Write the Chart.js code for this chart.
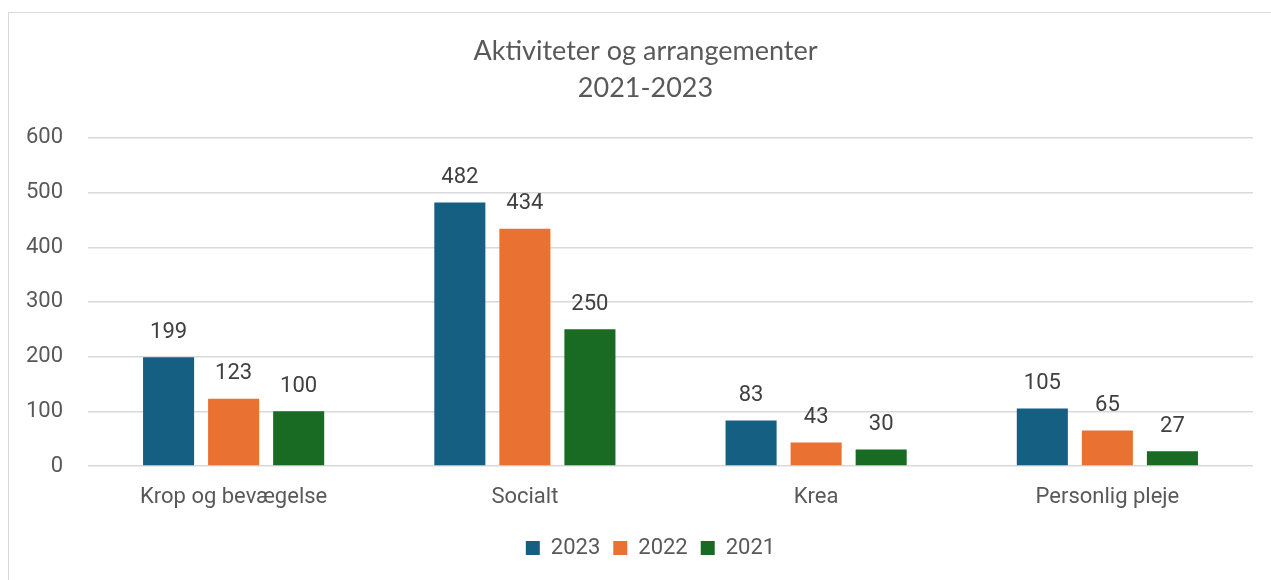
<!DOCTYPE html>
<html>
<head>
<meta charset="utf-8">
<script src="https://cdn.jsdelivr.net/npm/chart.js@4"></script>
<style>
	html, body { margin: 0; padding: 0; background: #fff; overflow: hidden; }
	#frame { position: absolute; left: 8px; top: 12px; width: 1300px; height: 620px; border: 1px solid #d9d9d9; box-sizing: border-box; }
	#wrap { position: absolute; left: 0; top: 0; width: 1271px; height: 580px; }
</style>
</head>
<body>
<div id="frame"></div>
<div id="wrap"><canvas id="chart"></canvas></div>
<script>
/* Aktiviteter og arrangementer 2021-2023 — grouped columns */
var categories = ["Krop og bevægelse", "Socialt", "Krea", "Personlig pleje"];
var series2023 = [199, 482, 83, 105];
var series2022 = [123, 434, 43, 65];
var series2021 = [100, 250, 30, 27];
var seriesNames = ["2023", "2022", "2021"];
var yTicks = [0, 100, 200, 300, 400, 500, 600];

var FONT = "Roboto, 'Open Sans', sans-serif";
var TITLE_FONT = "Lato, 'Open Sans', sans-serif";
var colors = { y2023: "#156082", y2022: "#e97132", y2021: "#196b24", text: "#595959", label: "#404040", grid: "#d9d9d9" };

// draws the value above each bar (no datalabels plugin available)
var valueLabels = {
	id: "valueLabels",
	afterDatasetsDraw: function (chart) {
		var ctx = chart.ctx;
		ctx.save();
		ctx.font = "22px " + FONT;
		ctx.fillStyle = colors.label;
		ctx.textAlign = "center";
		ctx.textBaseline = "bottom";
		chart.data.datasets.forEach(function (ds, i) {
			var meta = chart.getDatasetMeta(i);
			meta.data.forEach(function (bar, j) {
				ctx.fillText(String(ds.data[j]), bar.x, bar.y - 14);
			});
		});
		ctx.restore();
	},
};

// title and legend are centred on the plot area in the original, not the canvas
var centreOnPlot = {
	id: "centreOnPlot",
	afterLayout: function (chart) {
		if (chart.titleBlock) chart.titleBlock.left += 38;
		if (chart.legend) { chart.legend.left += 24; chart.legend.right += 24; }
	},
};

function dataset(name, values, color) {
	return {
		label: name,
		data: values,
		backgroundColor: color,
		borderWidth: 0,
		categoryPercentage: 0.67,
		barPercentage: 0.785,
	};
}

new Chart(document.getElementById("chart"), {
	type: "bar",
	data: {
		labels: categories,
		datasets: [
			dataset(seriesNames[0], series2023, colors.y2023),
			dataset(seriesNames[1], series2022, colors.y2022),
			dataset(seriesNames[2], series2021, colors.y2021),
		],
	},
	options: {
		responsive: true,
		maintainAspectRatio: false,
		animation: false,
		layout: { padding: { left: 0, right: 18, top: 0, bottom: 11 } },
		plugins: {
			title: {
				display: true,
				text: ["Aktiviteter og arrangementer", "2021-2023"],
				color: colors.text,
				font: { family: TITLE_FONT, size: 27, weight: "normal", lineHeight: 1.37 },
				padding: { top: 33, bottom: 31 },
			},
			legend: {
				position: "bottom",
				labels: {
					color: colors.text,
					font: { family: FONT, size: 22 },
					boxWidth: 14,
					boxHeight: 14,
					padding: 13,
				},
			},
			tooltip: { enabled: false },
		},
		scales: {
			x: {
				grid: { display: false },
				border: { display: false },
				ticks: { color: colors.text, font: { family: FONT, size: 22 }, padding: 10 },
				afterFit: function (s) { s.height = 58; },
			},
			y: {
				min: 0,
				max: yTicks[yTicks.length - 1],
				afterBuildTicks: function (s) { s.ticks = yTicks.map(function (v) { return { value: v }; }); },
				grid: { color: colors.grid, lineWidth: 1.5, drawTicks: false },
				border: { display: false },
				ticks: { color: colors.text, font: { family: FONT, size: 22 }, padding: 25 },
				afterFit: function (s) { s.width = 88; },
			},
		},
	},
	plugins: [valueLabels, centreOnPlot],
});
</script>
</body>
</html>
